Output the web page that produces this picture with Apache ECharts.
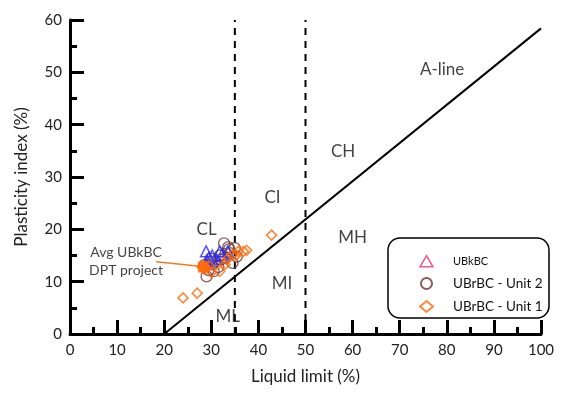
<!DOCTYPE html>
<html><head><meta charset="utf-8">
<script src="https://cdn.jsdelivr.net/npm/echarts@6/dist/echarts.min.js"></script>
<style>html,body{margin:0;padding:0;background:#fff}#c{width:587px;height:394px}</style>
</head><body><div id="c"></div>
<script>
var xTicks = [0,10,20,30,40,50,60,70,80,90,100];
var yTicks = [0,10,20,30,40,50,60];
var ubkbc = [[28.9,15.8],[29.5,14.6],[30.2,15.0],[31.8,15.8],[32.3,15.2],[33.5,15.8],[29.2,13.8],[31.0,14.4]];
var unit2 = [[32.7,17.3],[33.6,16.6],[35.0,16.4],[35.4,14.8],[34.2,15.4],[33.0,14.6],[32.0,14.2],[30.8,13.9],[30.1,13.3],[29.4,12.2],[29.0,11.0],[31.5,12.8],[30.5,12.0],[34.5,13.6],[33.8,16.2],[29.8,14.4],[28.6,13.2],[31.8,15.0]];
var unit1 = [[24.0,6.9],[27.0,7.8],[42.8,18.9],[36.8,15.8],[35.7,15.8],[37.5,16.0],[33.3,14.2],[32.9,13.3],[31.8,12.0],[28.7,12.6],[30.0,11.8],[34.5,15.2],[35.2,15.0],[29.5,13.0]];
var avgDPT = [[28.3,12.8]];
var aLine = [[20,0],[100,58.4]];
var dash35 = [[35,0],[35,60]];
var dash50 = [[50,0],[50,60]];
var zoneLabels = [[79,50.6,'A-line'],[58,34.8,'CH'],[43,26,'CI'],[29,20,'CL'],[60,18.5,'MH'],[45,9.6,'MI'],[33.5,3.4,'ML']];
var annotText = [[11.9,13.9,'Avg UBkBC\nDPT project']];
var annotLine = [[18.3,13.8],[28.0,12.9]];

var FONT = 'Lato';
var chart = echarts.init(document.getElementById('c'));
var axisCommon = {
  axisLine:{show:true,lineStyle:{color:'#000',width:3}},
  axisTick:{show:true,inside:true,length:14,lineStyle:{color:'#000',width:3}},
  minorTick:{show:true,splitNumber:2,length:7,lineStyle:{color:'#000',width:3}},
  splitLine:{show:false},
  nameTextStyle:{color:'#222',fontSize:17,fontFamily:FONT}
};
chart.setOption({
  animation:false,
  grid:{left:70,right:46,top:20,bottom:60},
  xAxis:Object.assign({type:'value',min:xTicks[0],max:xTicks[xTicks.length-1],interval:10,
    name:'Liquid limit (%)',nameLocation:'middle',nameGap:34},axisCommon,
    {axisLabel:{color:'#222',fontSize:15,fontFamily:FONT,margin:9}}),
  yAxis:Object.assign({type:'value',min:yTicks[0],max:yTicks[yTicks.length-1],interval:10,
    name:'Plasticity index (%)',nameLocation:'middle',nameGap:40},axisCommon,
    {axisLabel:{color:'#222',fontSize:15,fontFamily:FONT,margin:8}}),
  legend:{
    orient:'vertical',left:414,top:250,itemWidth:13,itemHeight:11,itemGap:9,
    textStyle:{fontSize:13.5,fontFamily:FONT,color:'#111',padding:[0,0,0,15]},
    data:[
      {name:'UBkBC',itemStyle:{color:'#fff',borderColor:'#e8336d',borderWidth:1.5},textStyle:{fontSize:11,fontFamily:FONT,color:'#111',padding:[0,0,0,15]}},
      {name:'UBrBC - Unit 2'},
      {name:'UBrBC - Unit 1'}
    ]
  },
  graphic:[{type:'rect',shape:{x:388,y:238,width:161,height:80,r:12},style:{fill:'none',stroke:'#000',lineWidth:1.5},z:-1}],
  series:[
    {type:'line',data:aLine,symbol:'none',lineStyle:{color:'#000',width:2},silent:true,z:1},
    {type:'line',data:dash35,symbol:'none',lineStyle:{color:'#000',width:2,type:[7,6]},silent:true,z:1},
    {type:'line',data:dash50,symbol:'none',lineStyle:{color:'#000',width:2,type:[7,6]},silent:true,z:1},
    {type:'line',data:annotLine,symbol:'none',lineStyle:{color:'#f57a1f',width:1.5},silent:true,z:2},
    {name:'UBrBC - Unit 2',type:'scatter',data:unit2,symbol:'circle',symbolSize:11,
      itemStyle:{color:'rgba(255,255,255,0)',borderColor:'#6b3535',borderWidth:1.3},z:3},
    {name:'UBkBC',type:'scatter',data:ubkbc,symbol:'triangle',symbolSize:11,
      itemStyle:{color:'rgba(255,255,255,0)',borderColor:'#2b2bee',borderWidth:1.5},z:4},
    {name:'UBrBC - Unit 1',type:'scatter',data:unit1,symbol:'diamond',symbolSize:10,
      itemStyle:{color:'rgba(255,255,255,0)',borderColor:'#ff6a0a',borderWidth:1.6},z:5},
    {type:'scatter',data:avgDPT,symbol:'diamond',symbolSize:15,itemStyle:{color:'#ff6a0a'},z:6},
    {type:'scatter',data:avgDPT,symbol:'rect',symbolSize:11,itemStyle:{color:'#ff6a0a'},z:6},
    {type:'scatter',data:zoneLabels,symbolSize:0,silent:true,z:7,
      label:{show:true,position:'inside',formatter:function(p){return p.data[2];},fontSize:17,fontFamily:FONT,color:'#111'}},
    {type:'scatter',data:annotText,symbolSize:0,silent:true,z:7,
      label:{show:true,position:'inside',formatter:function(p){return p.data[2];},fontSize:14,lineHeight:18,fontFamily:FONT,color:'#111',align:'center'}}
  ]
});
</script></body></html>
